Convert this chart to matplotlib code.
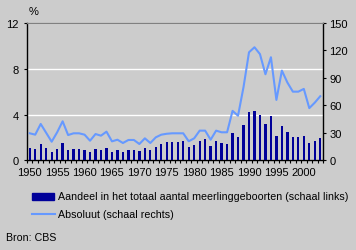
import matplotlib
matplotlib.use("Agg")
from matplotlib import pyplot as plt
from matplotlib.patches import Rectangle
from matplotlib.lines import Line2D

plt.rcParams['font.family'] = ['Liberation Sans', 'DejaVu Sans']

# data
years = list(range(1950, 2004))
share = [1.08, 0.99, 1.43, 1.08, 0.76, 0.99, 1.52, 0.90, 0.99, 0.99,
         0.90, 0.76, 0.99, 0.90, 1.08, 0.76, 0.90, 0.76, 0.90, 0.90,
         0.82, 1.08, 0.90, 1.17, 1.43, 1.60, 1.60, 1.60, 1.65, 1.17,
         1.35, 1.67, 1.87, 1.25, 1.67, 1.52, 1.43, 2.40, 2.02, 3.10,
         4.22, 4.30, 3.97, 3.18, 3.88, 2.13, 3.00, 2.45, 2.00, 2.00,
         2.13, 1.52, 1.66, 1.96]
absolute = [29.5, 28.0, 39.7, 30.0, 20.3, 30.6, 42.6, 27.6, 29.5, 29.5,
            28.0, 21.4, 28.7, 26.9, 31.3, 20.7, 22.5, 18.9, 22.2, 22.2,
            17.8, 24.0, 18.9, 25.1, 28.0, 29.0, 29.5, 29.5, 29.5, 20.8,
            24.0, 32.4, 32.4, 22.5, 32.4, 30.6, 30.6, 54.0, 48.7, 80.0,
            118.0, 123.5, 116.0, 94.0, 112.6, 66.0, 98.0, 85.0, 75.0, 75.0,
            78.0, 57.0, 63.0, 70.0]
left_ticks = [0, 4, 8, 12]
right_ticks = [0, 30, 60, 90, 120, 150]
year_labels = list(range(1950, 2001, 5))

bg = '#cccccc'
bar_col = '#000099'
line_col = '#6699ff'

fig = plt.figure(figsize=(3.56, 2.51), dpi=100)
fig.patch.set_facecolor(bg)
ax = fig.add_axes([27/356, 1 - 161.3/251, (323-27)/356, (161.3-24)/251])
ax.set_facecolor(bg)

ax.bar(years, share, width=0.42, color=bar_col, zorder=3)
ax.set_xlim(1949.5, 2003.5)
ax.set_ylim(0, 12)
ax.set_yticks(left_ticks)
ax.set_xticks(year_labels)
ax.set_xticks([y - 0.5 for y in years] + [2003.5], minor=True)
ax.tick_params(axis='x', which='major', length=0, pad=5, labelsize=8)
ax.tick_params(axis='x', which='minor', length=2.5, width=0.8, direction='out')
ax.tick_params(axis='y', length=2.5, width=0.8, pad=3.5, labelsize=8)
ax.yaxis.grid(True, color='white', linewidth=1, zorder=0)
ax.set_axisbelow(True)
ax.spines['top'].set_color('#808080')
ax.spines['right'].set_visible(False)
for s in ['left', 'bottom']:
    ax.spines[s].set_linewidth(1)

ax2 = ax.twinx()
ax2.plot(years, absolute, color=line_col, linewidth=1.5, zorder=4)
ax2.set_ylim(0, 150)
ax2.set_yticks(right_ticks)
ax2.tick_params(axis='y', length=2.5, width=0.8, pad=2, labelsize=8)
for s in ['left', 'bottom']:
    ax2.spines[s].set_visible(False)
ax2.spines['top'].set_color('#808080')
ax2.spines['right'].set_linewidth(1)

fig.text(29/356, 1 - 12/251, '%', fontsize=8, va='center', ha='left')

# legend drawn by hand
W, H = 356, 251
fig.add_artist(Rectangle((32/W, 1 - 200.5/H), 22/W, 6.5/H,
                         transform=fig.transFigure, color=bar_col))
fig.text(58/W, 1 - 197/H, 'Aandeel in het totaal aantal meerlinggeboorten (schaal links)',
         fontsize=7.7, va='center', ha='left')
fig.add_artist(Line2D([32/W, 55/W], [1 - 215/H, 1 - 215/H],
                      transform=fig.transFigure, color=line_col, linewidth=1.5))
fig.text(58/W, 1 - 215/H, 'Absoluut (schaal rechts)', fontsize=7.7, va='center', ha='left')
fig.text(6/W, 1 - 238/H, 'Bron: CBS', fontsize=7.7, va='center', ha='left')

fig.savefig('out.png', dpi=100, facecolor=bg)
